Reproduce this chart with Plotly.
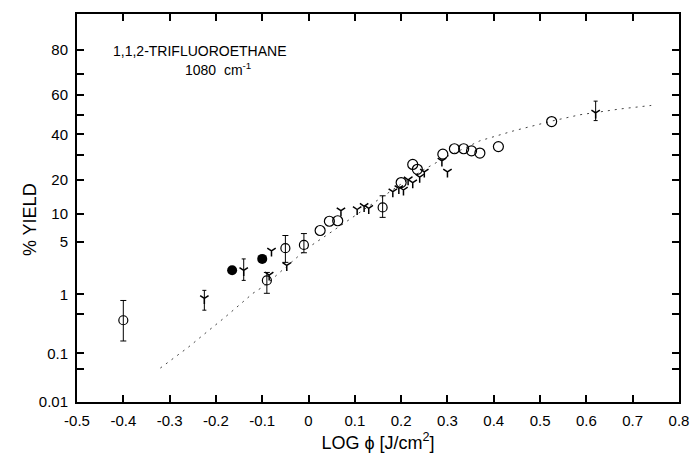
from statistics import NormalDist
import plotly.graph_objects as go

_nd = NormalDist()


def probit(p):
    """Normal-probability (probit) scale used by the % yield axis."""
    return _nd.inv_cdf(p / 100.0)


# ---------------- data ----------------
# open circles with error bars
ob_x = [-0.40, -0.09, -0.05, -0.01, 0.16]
ob_y = [0.39, 1.6, 4.2, 4.6, 11.5]
ob_hi = [0.81, 2.06, 5.9, 6.2, 14.7]
ob_lo = [0.17, 1.04, 2.8, 3.7, 9.2]

# open circles without error bars
o_x = [0.025, 0.045, 0.063, 0.20, 0.225, 0.235, 0.29, 0.315, 0.335, 0.352, 0.37, 0.41, 0.525]
o_y = [6.7, 8.4, 8.5, 19.0, 26.0, 24.0, 30.5, 33.0, 33.0, 32.0, 31.0, 34.0, 46.5]

# filled circles
f_x = [-0.165, -0.10]
f_y = [2.2, 3.1]

# small "Y" symbols with error bars
yb_x = [-0.225, -0.14, 0.62]
yb_y = [0.87, 2.2, 51.0]
yb_hi = [1.15, 3.1, 57.0]
yb_lo = [0.57, 1.6, 47.0]

# small "Y" symbols without error bars
y_x = [-0.085, -0.047, -0.08, 0.07, 0.105, 0.12, 0.13, 0.182, 0.195, 0.205,
       0.215, 0.225, 0.24, 0.25, 0.288, 0.30]
y_y = [1.9, 2.55, 3.9, 10.7, 11.0, 11.8, 11.3, 16.0, 17.0, 16.5,
       20.0, 19.0, 21.0, 23.0, 27.5, 23.0]

# fitted curve
fit_x = [-0.32, -0.26, -0.224, -0.18, -0.12, -0.094, -0.05, 0.0, 0.05, 0.10,
         0.15, 0.20, 0.25, 0.30, 0.37, 0.442, 0.526, 0.586, 0.673, 0.74]
fit_y = [0.052, 0.13, 0.23, 0.44, 1.04, 1.36, 2.4, 4.3, 6.5, 9.5,
         13.5, 18.5, 24.0, 29.5, 36.8, 41.7, 46.8, 50.0, 53.0, 54.8]

# axis ticks
x_ticks = [-0.5, -0.4, -0.3, -0.2, -0.1, 0.0, 0.1, 0.2, 0.3, 0.4, 0.5, 0.6, 0.7, 0.8]
x_labels = ["-0.5", "-0.4", "-0.3", "-0.2", "-0.1", "0", "0.1", "0.2", "0.3",
            "0.4", "0.5", "0.6", "0.7", "0.8"]
y_ticks = [0.01, 0.1, 1, 5, 10, 20, 40, 60, 80]
y_labels = ["0.01", "0.1", "1", "5", "10", "20", "40", "60", "80"]
y_minor = [0.05, 0.5, 30, 50, 70]
y_top = 90.4
# ----------------------------------------------------------------

FONT = "Liberation Sans, Arial, sans-serif"


def zs(vals):
    return [probit(v) for v in vals]


def err_plus(ys, his):
    return [probit(h) - probit(y) for y, h in zip(ys, his)]


def err_minus(ys, los):
    return [probit(y) - probit(l) for y, l in zip(ys, los)]


fig = go.Figure()

fig.add_trace(go.Scatter(
    x=fit_x, y=zs(fit_y), mode="lines",
    line=dict(color="#444444", width=1, dash="2px,5px"),
    hoverinfo="skip", showlegend=False))

fig.add_trace(go.Scatter(
    x=ob_x, y=zs(ob_y), mode="markers",
    marker=dict(symbol="circle-open", size=9, color="black", line=dict(width=1.2)),
    error_y=dict(type="data", symmetric=False,
                 array=err_plus(ob_y, ob_hi), arrayminus=err_minus(ob_y, ob_lo),
                 color="black", thickness=1, width=3),
    showlegend=False))

fig.add_trace(go.Scatter(
    x=o_x, y=zs(o_y), mode="markers",
    marker=dict(symbol="circle-open", size=10, color="black", line=dict(width=1.2)),
    showlegend=False))

fig.add_trace(go.Scatter(
    x=f_x, y=zs(f_y), mode="markers",
    marker=dict(symbol="circle", size=10, color="black"),
    showlegend=False))

fig.add_trace(go.Scatter(
    x=yb_x, y=zs(yb_y), mode="markers",
    marker=dict(symbol="y-down-open", size=7, color="black", line=dict(width=1.5, color="black")),
    error_y=dict(type="data", symmetric=False,
                 array=err_plus(yb_y, yb_hi), arrayminus=err_minus(yb_y, yb_lo),
                 color="black", thickness=1, width=2),
    showlegend=False))

fig.add_trace(go.Scatter(
    x=y_x, y=zs(y_y), mode="markers",
    marker=dict(symbol="y-down-open", size=7, color="black", line=dict(width=1.5, color="black")),
    showlegend=False))

fig.update_layout(
    width=690, height=459,
    margin=dict(l=77, r=11, t=14, b=57),
    paper_bgcolor="white", plot_bgcolor="white",
    font=dict(family=FONT, color="black"),
    xaxis=dict(range=[-0.5, 0.8], tickvals=x_ticks, ticktext=x_labels,
               ticks="inside", ticklen=7, tickwidth=1.5, tickcolor="black",
               showline=True, linecolor="black", linewidth=2, mirror="ticks",
               showgrid=False, zeroline=False, tickfont=dict(size=15),
               ticklabelstandoff=4, automargin=False,
               title=dict(text="LOG \u03d5 [J/cm<sup>2</sup>]", font=dict(size=18),
                          standoff=8)),
    yaxis=dict(range=[probit(y_ticks[0]), probit(y_top)],
               tickvals=zs(y_ticks), ticktext=y_labels,
               ticks="inside", ticklen=7, tickwidth=1.5, tickcolor="black",
               minor=dict(tickvals=zs(y_minor), ticks="inside", ticklen=7,
                          tickwidth=1.5, tickcolor="black", showgrid=False),
               showline=True, linecolor="black", linewidth=2, mirror="ticks",
               showgrid=False, zeroline=False, tickfont=dict(size=15),
               ticklabelstandoff=4, automargin=False),
    annotations=[
        dict(text="% YIELD", textangle=-90, xref="paper", yref="paper",
             x=-0.078, y=0.469, xanchor="center", yanchor="middle",
             showarrow=False, font=dict(size=18)),
        dict(text="1,1,2-TRIFLUOROETHANE", xref="paper", yref="paper",
             x=0.204, y=0.905, xanchor="center", yanchor="middle",
             showarrow=False, font=dict(size=14)),
        dict(text="1080  cm<sup>-1</sup>", xref="paper", yref="paper",
             x=0.234, y=0.858, xanchor="center", yanchor="middle",
             showarrow=False, font=dict(size=14)),
    ],
)

fig.write_html("out.html")
